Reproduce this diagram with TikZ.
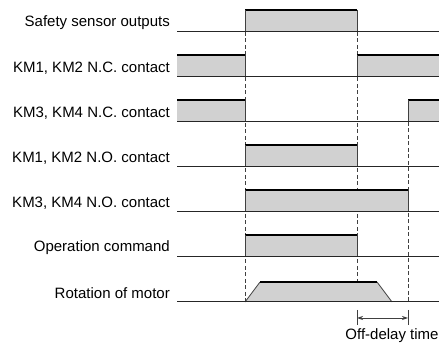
\documentclass[tikz,border=0pt]{standalone}
\usepackage{fontspec}
\setmainfont{Liberation Sans}
\usetikzlibrary{arrows.meta}

\begin{document}
\begin{tikzpicture}[x=1pt, y=-1pt,
  guide/.style={black!75, line width=0.7pt, dash pattern=on 4pt off 2.5pt},
  level/.style={black!85, line width=1pt},
  edge/.style={black!75, line width=0.8pt},
  high/.style={black, line width=2.4pt},
  lbl/.style={anchor=east, inner sep=0pt, font=\fontsize{15}{18}\selectfont}]
  \useasboundingbox (0,0) rectangle (439,344);
  % labels
  \foreach \y/\nm/\txt in {32/sens/Safety sensor outputs, 77/ncA/{KM1, KM2 N.C. contact},
      122/ncB/{KM3, KM4 N.C. contact}, 167/noA/{KM1, KM2 N.O. contact},
      212/noB/{KM3, KM4 N.O. contact}, 257/cmd/Operation command, 302/mot/Rotation of motor}
    \node[lbl] (\nm) at (170,\y-9) {\txt};
  % guide lines
  \draw[guide] (245,32)--(245,302);
  \draw[guide] (357,32)--(357,282);
  \draw[guide] (408,122)--(408,302);
  % high levels
  \foreach \xa/\xb/\y in {245/357/32, 177/245/77, 357/439/77, 177/245/122, 408/439/122,
      245/357/167, 245/408/212, 245/357/257}{
    \fill[black!18] (\xa,\y-22) rectangle (\xb,\y);
    \draw[high] (\xa,\y-22)--(\xb,\y-22);
  }
  % motor
  \fill[black!18] (245,302)--(260,282)--(377,282)--(392,302)--cycle;
  \draw[edge] (245,302)--(260,282) (377,282)--(392,302);
  \draw[high] (260,282)--(377,282);
  % edges
  \foreach \x/\y in {245/32, 357/32, 245/77, 357/77, 245/122, 408/122,
      245/167, 357/167, 245/212, 408/212, 245/257, 357/257}
    \draw[edge] (\x,\y)--(\x,\y-22);
  % base lines
  \foreach \y in {32,77,122,167,212,257,302}
    \draw[level] (177,\y)--(439,\y);
  % off-delay time
  \draw[edge] (357,310)--(357,325) (408,310)--(408,325);
  \coordinate (dOn) at (357,318);
  \coordinate (dOff) at (408,318);
  \draw[edge, {Stealth[length=6pt,width=4pt]}-{Stealth[length=6pt,width=4pt]}] (dOn)--(dOff);
  \node[inner sep=0pt, font=\fontsize{15}{18}\selectfont] (delay) at (392,336) {Off-delay time};
\end{tikzpicture}
\end{document}
